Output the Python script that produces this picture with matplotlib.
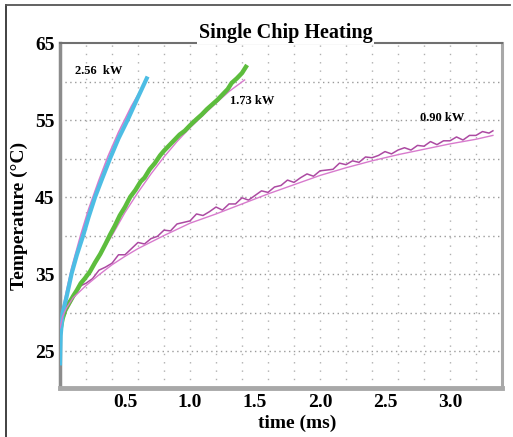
import numpy as np
import matplotlib.pyplot as plt
from matplotlib.lines import Line2D

plt.rcParams['font.family'] = ['Liberation Serif', 'DejaVu Serif']
plt.rcParams['font.weight'] = 'bold'

# 2.56 kW measured / fit
t_256 = [0.0, 0.005, 0.02, 0.05, 0.09, 0.13, 0.18, 0.22, 0.27, 0.32, 0.385, 0.45, 0.52, 0.59, 0.667]
T_256 = [23.4, 27.0, 29.9, 32.0, 35.1, 37.5, 40.1, 42.4, 45.0, 47.2, 50.0, 52.6, 55.0, 57.6, 60.4]
tf_256 = [0.0, 0.02, 0.05, 0.09, 0.16, 0.22, 0.30, 0.37, 0.45, 0.55, 0.66]
Tf_256 = [27.5, 30.3, 32.8, 35.8, 40.1, 43.4, 47.2, 50.3, 53.4, 56.8, 60.0]

# 1.73 kW measured / fit
t_173 = [0.0, 0.02, 0.04, 0.07, 0.10, 0.13, 0.16, 0.19, 0.23, 0.27, 0.31, 0.35, 0.385,
         0.42, 0.46, 0.50, 0.54, 0.58, 0.62, 0.65, 0.69, 0.73, 0.77, 0.80, 0.84,
         0.88, 0.92, 0.96, 1.00, 1.05, 1.09, 1.13, 1.17, 1.21, 1.25, 1.29, 1.32,
         1.36, 1.40, 1.43]
T_173 = [27.5, 29.2, 30.3, 31.2, 32.1, 32.9, 33.8, 34.4, 35.3, 36.5, 37.6, 38.9, 40.1,
         41.2, 42.6, 43.7, 45.0, 45.9, 47.0, 47.5, 48.6, 49.4, 50.4, 51.0, 51.7,
         52.4, 53.1, 53.6, 54.3, 55.1, 55.7, 56.4, 57.0, 57.6, 58.3, 59.0, 59.8,
         60.4, 61.1, 61.9]
tf_173 = [0.0, 0.05, 0.10, 0.20, 0.30, 0.40, 0.50, 0.60, 0.70, 0.80, 0.90, 1.00, 1.10, 1.20, 1.30, 1.42]
Tf_173 = [28.0, 30.2, 31.8, 34.5, 37.3, 40.0, 43.0, 45.6, 48.0, 50.2, 52.2, 54.0, 55.6, 57.2, 58.7, 60.2]

# 0.90 kW measured / fit
t_090 = [0.0, 0.02, 0.05, 0.10, 0.15, 0.20, 0.25, 0.30, 0.35, 0.40, 0.45, 0.50, 0.55, 0.60,
         0.65, 0.70, 0.75, 0.80, 0.85, 0.90, 0.95, 1.00, 1.05, 1.10, 1.15, 1.20, 1.25,
         1.30, 1.35, 1.40, 1.45, 1.50, 1.55, 1.60, 1.65, 1.70, 1.75, 1.80, 1.85, 1.90,
         1.95, 2.00, 2.05, 2.10, 2.15, 2.20, 2.25, 2.30, 2.35, 2.40, 2.45, 2.50, 2.55,
         2.60, 2.65, 2.70, 2.75, 2.80, 2.85, 2.90, 2.95, 3.00, 3.05, 3.10, 3.15, 3.20,
         3.25, 3.30, 3.33]
T_090 = [27.5, 29.9, 31.2, 32.1, 33.4, 33.8, 34.4, 35.5, 35.9, 36.4, 37.5, 37.5, 38.3, 39.1,
         38.9, 39.6, 39.9, 40.7, 40.6, 41.5, 41.7, 41.9, 42.8, 42.6, 43.1, 43.7, 43.3,
         44.1, 44.1, 44.9, 44.6, 45.2, 45.8, 45.6, 46.3, 46.5, 47.2, 46.9, 47.5, 48.0,
         47.7, 48.4, 48.5, 48.6, 49.4, 49.2, 49.7, 49.5, 50.2, 50.1, 50.4, 50.9, 50.6,
         51.1, 51.4, 51.1, 51.7, 51.6, 52.2, 51.8, 52.3, 52.3, 52.8, 52.4, 53.0, 53.0,
         53.5, 53.3, 53.6]
tf_090 = [0.0, 0.02, 0.05, 0.10, 0.20, 0.30, 0.40, 0.50, 0.60, 0.80, 1.00, 1.20, 1.40, 1.60,
          1.80, 2.00, 2.20, 2.40, 2.60, 2.80, 3.00, 3.20, 3.33]
Tf_090 = [28.0, 29.5, 30.6, 31.9, 33.5, 34.9, 36.2, 37.3, 38.3, 40.0, 41.6, 42.8, 44.1, 45.4,
          46.6, 47.8, 48.8, 49.7, 50.5, 51.2, 51.9, 52.5, 53.0]

x_ticks = [0.5, 1.0, 1.5, 2.0, 2.5, 3.0]
y_ticks = [25, 35, 45, 55, 65]

fig = plt.figure(figsize=(5.13, 4.37), dpi=100, facecolor='white')
ax = fig.add_axes([60/513, 49/437, 442/513, 345/437])

# dotted grid
for y in np.arange(25, 65, 5):
    ax.axhline(y, color='#9a9a9a', lw=1.0, ls=(0, (1, 2.5)), zorder=0)
for x in np.arange(0.2, 3.4, 0.2):
    ax.axvline(x, color='#b0b0b0', lw=1.0, ls=(0, (1, 5)), zorder=0)

fit_col = '#d87acd'
ax.plot(t_090, T_090, color='#ac4aa2', lw=1.1, zorder=3)
ax.plot(tf_090, Tf_090, color=fit_col, lw=1.0, zorder=4)
ax.plot(t_173, T_173, color='#5dbd3d', lw=3.2, zorder=3)
ax.plot(tf_173, Tf_173, color=fit_col, lw=1.0, zorder=2)
ax.plot(tf_256, Tf_256, color=fit_col, lw=1.2, zorder=2)
ax.plot(t_256, T_256, color='#4dbde4', lw=3.0, zorder=3)

ax.text(0.115, 61.4, '2.56  kW', fontsize=9, fontweight='bold', va='center')
ax.text(1.31, 57.5, '1.73 kW', fontsize=9, fontweight='bold', va='center')
ax.text(2.77, 55.3, '0.90 kW', fontsize=9, fontweight='bold', va='center')

ax.set_xlim(0, 3.4)
ax.set_ylim(20.2, 65)
ax.set_xticks(x_ticks)
ax.set_xticklabels([f'{v:.1f}' for v in x_ticks])
ax.set_yticks(y_ticks)
ax.tick_params(axis='x', length=0, labelsize=14, pad=4)
ax.tick_params(axis='y', length=0, labelsize=14, pad=4)
for lab in ax.get_xticklabels() + ax.get_yticklabels():
    lab.set_fontweight('bold')

ax.spines['left'].set_color('#8c8c8c')
ax.spines['left'].set_linewidth(2.5)
ax.spines['bottom'].set_color('#a8a8a8')
ax.spines['bottom'].set_linewidth(3.5)
ax.spines['right'].set_color('#a8a8a8')
ax.spines['right'].set_linewidth(2.2)
ax.spines['top'].set_color('#707070')
ax.spines['top'].set_linewidth(1.5)

ax.set_xlabel('time (ms)', fontsize=14, fontweight='bold')
ax.xaxis.set_label_coords(0.536, -0.078)
ax.set_ylabel('Temperature (°C)', fontsize=14, fontweight='bold')
ax.yaxis.set_label_coords(-0.072, 0.5)

ax.text(0.51, 1.0, 'Single Chip Heating', transform=ax.transAxes, fontsize=14.5,
        fontweight='bold', ha='center', va='bottom',
        bbox=dict(facecolor='white', edgecolor='none', pad=1.0), zorder=10)

# outer frame
fig.add_artist(Line2D([6/513, 6/513], [0, 1 - 5/437], transform=fig.transFigure, color='#333333', lw=1.3))
fig.add_artist(Line2D([6/513, 510/513], [1 - 5/437, 1 - 5/437], transform=fig.transFigure, color='#555555', lw=1.3))

fig.savefig('out.png', dpi=100, facecolor='white')
